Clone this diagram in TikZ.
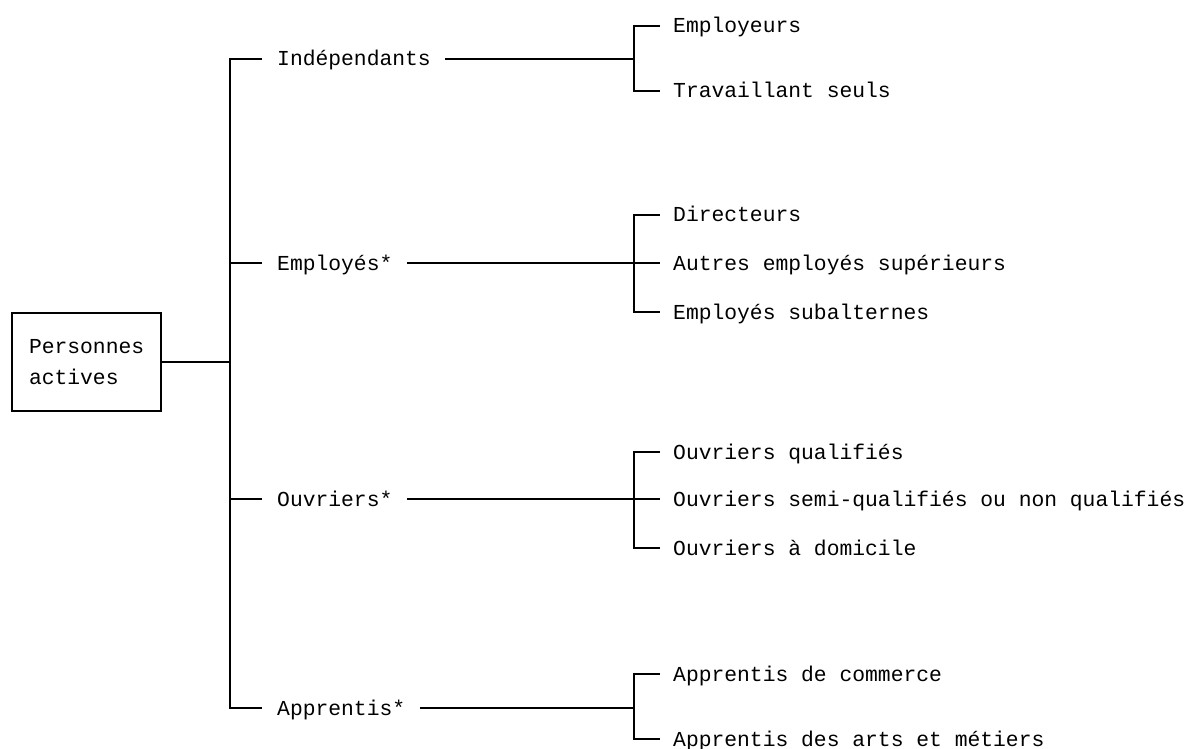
\documentclass[tikz,border=0pt]{standalone}
\usepackage{fontspec}
\setmainfont{Liberation Mono}
\begin{document}
\begin{tikzpicture}[x=1pt,y=-1pt,
  lbl/.style={anchor=west, inner sep=0pt, text height=14pt, text depth=0pt, font=\fontsize{21.33}{31}\selectfont},
  wire/.style={line width=1.5pt, line cap=rect}]
\useasboundingbox (0,0) rectangle (1189,749);
\node[draw, line width=2pt, minimum width=149pt, minimum height=98pt, inner xsep=17pt, inner ysep=0pt,
      align=left, text width=115pt, font=\fontsize{21.33}{31}\selectfont] (root) at (86.5,362) {Personnes\\actives};
\coordinate (tr) at (230,0);
\coordinate (bx) at (634,0);
% level 1
\node[lbl] (ind) at (277,59) {Indépendants};
\node[lbl] (emp) at (277,263) {Employés*};
\node[lbl] (ouv) at (277,499) {Ouvriers*};
\node[lbl] (app) at (277,708) {Apprentis*};
% level 2
\node[lbl] (ind1) at (673,26) {Employeurs};
\node[lbl] (ind2) at (673,91) {Travaillant seuls};
\node[lbl] (emp1) at (673,215) {Directeurs};
\node[lbl] (emp2) at (673,263) {Autres employés supérieurs};
\node[lbl] (emp3) at (673,312) {Employés subalternes};
\node[lbl] (ouv1) at (673,452) {Ouvriers qualifiés};
\node[lbl] (ouv2) at (673,499) {Ouvriers semi-qualifiés ou non qualifiés};
\node[lbl] (ouv3) at (673,548) {Ouvriers à domicile};
\node[lbl] (app1) at (673,674) {Apprentis de commerce};
\node[lbl] (app2) at (673,739) {Apprentis des arts et métiers};
% root to trunk
\draw[wire] (root.east) -- (root.east -| tr);
% trunk
\draw[wire] ([xshift=-16pt]ind.west) -- (ind.west -| tr) -- (app.west -| tr) -- ([xshift=-16pt]app.west);
\draw[wire] (emp.west -| tr) -- ([xshift=-16pt]emp.west);
\draw[wire] (ouv.west -| tr) -- ([xshift=-16pt]ouv.west);
% level-1 to brackets
\draw[wire] ([xshift=15pt]ind.east) -- (ind.east -| bx);
\draw[wire] ([xshift=15pt]emp.east) -- (emp.east -| bx);
\draw[wire] ([xshift=15pt]ouv.east) -- (ouv.east -| bx);
\draw[wire] ([xshift=15pt]app.east) -- (app.east -| bx);
% brackets
\draw[wire] ([xshift=-14pt]ind1.west) -- (ind1.west -| bx) -- (ind2.west -| bx) -- ([xshift=-14pt]ind2.west);
\draw[wire] ([xshift=-14pt]emp1.west) -- (emp1.west -| bx) -- (emp3.west -| bx) -- ([xshift=-14pt]emp3.west);
\draw[wire] (emp2.west -| bx) -- ([xshift=-14pt]emp2.west);
\draw[wire] ([xshift=-14pt]ouv1.west) -- (ouv1.west -| bx) -- (ouv3.west -| bx) -- ([xshift=-14pt]ouv3.west);
\draw[wire] (ouv2.west -| bx) -- ([xshift=-14pt]ouv2.west);
\draw[wire] ([xshift=-14pt]app1.west) -- (app1.west -| bx) -- (app2.west -| bx) -- ([xshift=-14pt]app2.west);
\end{tikzpicture}
\end{document}
